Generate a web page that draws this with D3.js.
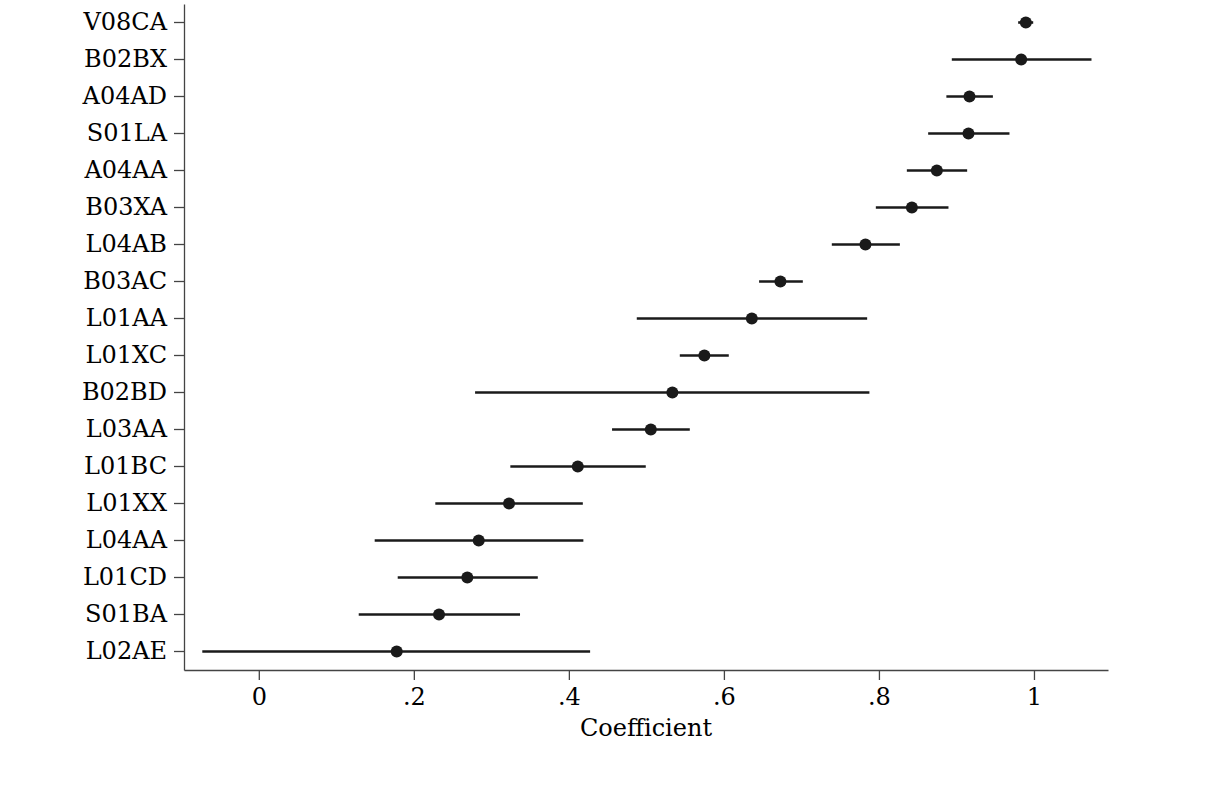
<!DOCTYPE html>
<html>
<head>
<meta charset="utf-8">
<script src="https://cdn.jsdelivr.net/npm/d3@7"></script>
<style>
  body { margin: 0; background: #fff; }
  svg text { font-family: "DejaVu Serif", serif; }
</style>
</head>
<body>
<div id="chart"></div>
<script>
// ATC codes, top to bottom
var codes = ["V08CA", "B02BX", "A04AD", "S01LA", "A04AA", "B03XA", "L04AB", "B03AC", "L01AA",
    "L01XC", "B02BD", "L03AA", "L01BC", "L01XX", "L04AA", "L01CD", "S01BA", "L02AE"];
var coef = [0.9895, 0.9835, 0.9168, 0.9155, 0.8747, 0.8425, 0.7826, 0.6729, 0.636,
    0.5748, 0.5335, 0.5057, 0.4115, 0.3228, 0.2837, 0.269, 0.2325, 0.1779];
var lower = [0.9796, 0.894, 0.887, 0.8635, 0.836, 0.796, 0.7392, 0.6454, 0.4876,
    0.5431, 0.279, 0.4557, 0.3245, 0.2277, 0.1495, 0.1792, 0.1289, -0.0729];
var upper = [0.999, 1.0742, 0.947, 0.9684, 0.9138, 0.8897, 0.827, 0.7018, 0.7848,
    0.6063, 0.7877, 0.556, 0.4992, 0.418, 0.4187, 0.3599, 0.337, 0.4274];
var xTicks = [0, 0.2, 0.4, 0.6, 0.8, 1];

var width = 1210, height = 790;
var svg = d3.select("#chart")
    .append("svg")
    .attr("width", width)
    .attr("height", height);

var x = d3.scaleLinear()
    .domain([-0.0965, 1.0955])
    .range([184, 1108]);
var y = d3.scaleBand()
    .domain(codes)
    .range([4, 670]);

// y axis
var yAxis = svg.append("g")
    .attr("transform", "translate(184,0)")
    .call(d3.axisLeft(y).tickSize(10).tickPadding(7).tickSizeOuter(0));
yAxis.selectAll("text").style("font-size", "24px").attr("fill", "#000");

// x axis
var xAxis = svg.append("g")
    .attr("transform", "translate(0,670)")
    .call(d3.axisBottom(x).tickValues(xTicks).tickSize(10).tickPadding(8).tickSizeOuter(0)
        .tickFormat(function(d) { return d === 0 ? "0" : d === 1 ? "1" : d3.format(".1f")(d).replace(/^0/, ""); }));
xAxis.selectAll("text").style("font-size", "24px").attr("fill", "#000");

svg.selectAll(".domain, .tick line").attr("stroke", "#444").attr("stroke-width", 1.3);

svg.append("text")
    .attr("x", 646)
    .attr("y", 736)
    .attr("text-anchor", "middle")
    .style("font-size", "24px")
    .attr("fill", "#000")
    .text("Coefficient");

// confidence intervals
var mid = function(i) { return y(codes[i]) + y.bandwidth() / 2; };
svg.append("g")
    .selectAll("line")
    .data(codes)
    .enter()
    .append("line")
    .attr("x1", function(d, i) { return x(lower[i]); })
    .attr("x2", function(d, i) { return x(upper[i]); })
    .attr("y1", function(d, i) { return mid(i); })
    .attr("y2", function(d, i) { return mid(i); })
    .attr("stroke", "#1a1a1a")
    .attr("stroke-width", 2.6);

// point estimates
svg.append("g")
    .selectAll("circle")
    .data(codes)
    .enter()
    .append("circle")
    .attr("cx", function(d, i) { return x(coef[i]); })
    .attr("cy", function(d, i) { return mid(i); })
    .attr("r", 6)
    .attr("fill", "#1a1a1a");
</script>
</body>
</html>
